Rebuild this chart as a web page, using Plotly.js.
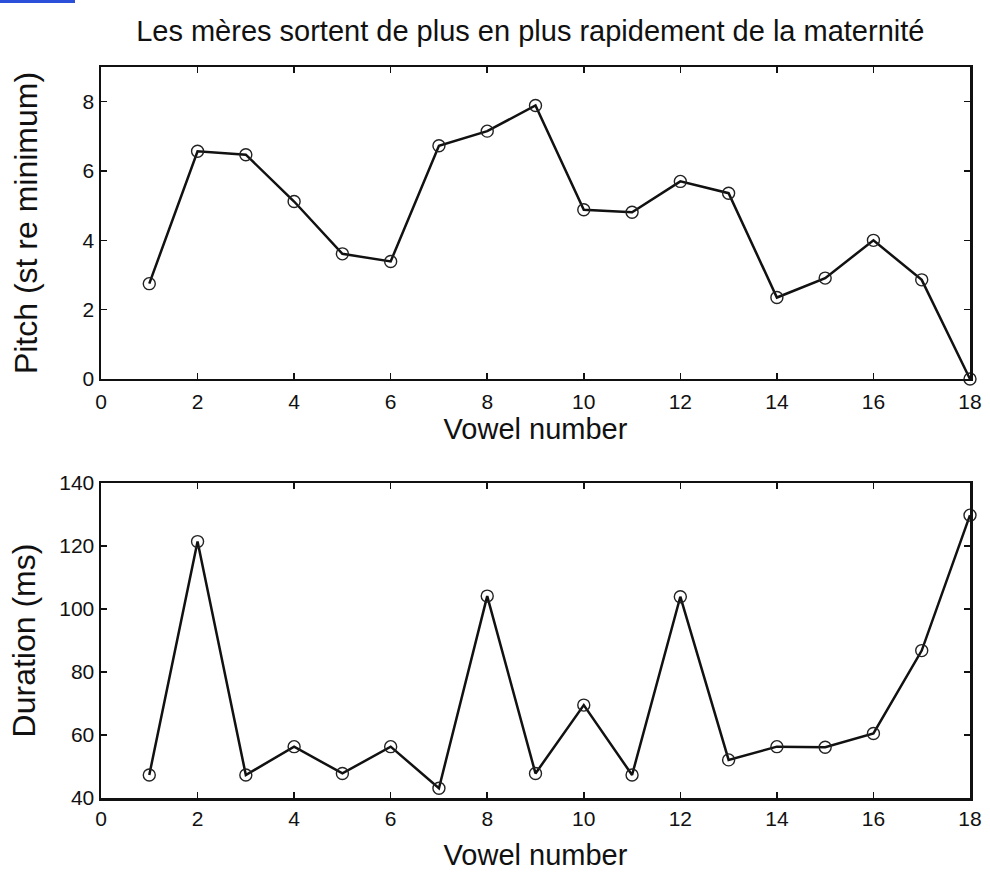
<!DOCTYPE html>
<html>
<head>
<meta charset="utf-8">
<script src="https://cdn.plot.ly/plotly-3.0.1.min.js"></script>
<style>html,body{margin:0;padding:0;background:#fff;}#chart{width:990px;height:873px;}</style>
</head>
<body>
<div id="chart"></div>
<script>
const vowelNumber = [1,2,3,4,5,6,7,8,9,10,11,12,13,14,15,16,17,18];
const pitch = [2.75,6.57,6.47,5.12,3.61,3.39,6.73,7.15,7.89,4.88,4.81,5.70,5.36,2.35,2.91,4.0,2.86,0.0];
const duration = [47.3,121.4,47.3,56.3,47.8,56.3,43.1,104.1,47.8,69.5,47.3,103.9,52.1,56.3,56.1,60.5,86.8,129.8];
const titleText = "Les mères sortent de plus en plus rapidement de la maternité";
const xTitle = "Vowel number";
const pitchTitle = "Pitch (st re minimum)";
const durationTitle = "Duration (ms)";
const xTicks = [0,2,4,6,8,10,12,14,16,18];
const pitchTicks = [0,2,4,6,8];
const durationTicks = [40,60,80,100,120,140];

const FONT = "Liberation Sans, Arial, Helvetica, sans-serif";
const lineStyle = {color:'#111', width:2.5};
const markerStyle = {symbol:'circle-open', size:12, color:'#222', line:{width:1.4, color:'#222'}};

const traces = [
  {x:vowelNumber, y:pitch, type:'scatter', mode:'lines+markers', line:lineStyle, marker:markerStyle, xaxis:'x', yaxis:'y', showlegend:false, cliponaxis:false},
  {x:vowelNumber, y:duration, type:'scatter', mode:'lines+markers', line:lineStyle, marker:markerStyle, xaxis:'x2', yaxis:'y2', showlegend:false, cliponaxis:false}
];

function axisBase(){
  return {
    showline:true, linecolor:'#111', linewidth:2.5, mirror:'ticks',
    ticks:'inside', ticklen:6, tickwidth:1.5, tickcolor:'#111',
    showgrid:false, zeroline:false,
    tickfont:{family:FONT, size:21, color:'#111'},
    fixedrange:true
  };
}

const xa = Object.assign(axisBase(), {domain:[0,1], range:[0,18], tickvals:xTicks, ticktext:xTicks.map(String), anchor:'y', ticklabelstandoff:2,
  title:{text:xTitle, font:{family:FONT, size:29, color:'#111'}, standoff:6}});
const ya = Object.assign(axisBase(), {domain:[0.5732,1], range:[0,9], tickvals:pitchTicks, ticktext:pitchTicks.map(String), anchor:'x', ticklabelstandoff:0,
  title:{text:pitchTitle, font:{family:FONT, size:32, color:'#111'}, standoff:36}});
const xa2 = Object.assign(axisBase(), {domain:[0,1], range:[0,18], tickvals:xTicks, ticktext:xTicks.map(String), anchor:'y2', ticklabelstandoff:0,
  title:{text:xTitle, font:{family:FONT, size:29, color:'#111'}, standoff:16}});
const ya2 = Object.assign(axisBase(), {domain:[0,0.4309], range:[40,140], tickvals:durationTicks, ticktext:durationTicks.map(String), anchor:'x2', ticklabelstandoff:0,
  title:{text:durationTitle, font:{family:FONT, size:32, color:'#111'}, standoff:14}});

const layout = {
  width:990, height:873,
  margin:{l:101, r:20, t:67, b:75, pad:0},
  paper_bgcolor:'#fff', plot_bgcolor:'#fff',
  font:{family:FONT, color:'#111'},
  title:{text:titleText, font:{family:FONT, size:29, color:'#111'}, x:0.494, xref:'paper', xanchor:'center', y:1-31/873, yref:'container', yanchor:'middle'},
  xaxis:xa, yaxis:ya, xaxis2:xa2, yaxis2:ya2,
  shapes:[{type:'rect', xref:'paper', yref:'paper', x0:-101/869, x1:(75-101)/869, y0:(798-3)/731, y1:798/731, fillcolor:'#2b4fd8', line:{width:0}}],
  showlegend:false
};

Plotly.newPlot('chart', traces, layout, {staticPlot:true, displayModeBar:false});
</script>
</body>
</html>
